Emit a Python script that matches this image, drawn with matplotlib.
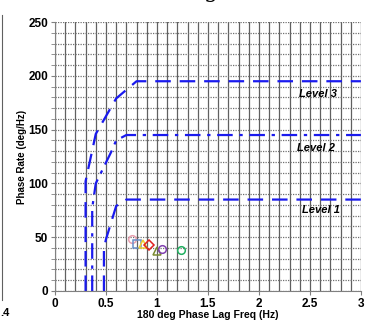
import matplotlib.pyplot as plt
from matplotlib.lines import Line2D
import numpy as np

plt.rcParams['font.family'] = ['Liberation Sans', 'DejaVu Sans']

# Boundary curves for each level (freq Hz, phase rate deg/Hz)
level1_x = [0.48, 0.48, 0.50, 0.60, 0.70, 3.0]
level1_y = [0, 40, 48, 79, 85, 85]
level2_x = [0.365, 0.365, 0.40, 0.56, 0.60, 0.70, 3.0]
level2_y = [0, 77, 100, 131, 140, 145, 145]
level3_x = [0.30, 0.30, 0.40, 0.60, 0.80, 3.0]
level3_y = [0, 102, 146, 179, 195, 195]

# Test points
pt_x = [0.76, 0.80, 0.86, 0.92, 1.00, 1.05, 1.24]
pt_y = [48.5, 44, 44, 43, 37, 39, 38]
pt_marker = ['o', 's', '^', 'D', '^', 'o', 'o']
pt_color = ['#e8a0b0', '#6a8fc8', '#f0d030', '#e02020', '#7a8a30', '#8040b0', '#20b060']

fig = plt.figure(figsize=(3.74, 3.32), dpi=100)
ax = fig.add_axes([0.147, 0.1235, 0.818, 0.81])

blue = '#1a1aee'
ax.plot(level3_x, level3_y, color=blue, lw=1.6, dashes=(7, 4))
ax.plot(level2_x, level2_y, color=blue, lw=1.6, dashes=(7, 3, 1.5, 3))
ax.plot(level1_x, level1_y, color=blue, lw=1.6, dashes=(7, 4))

for x, y, m, c in zip(pt_x, pt_y, pt_marker, pt_color):
    ax.plot(x, y, marker=m, mfc='none', mec=c, ms=5.5, mew=1.1, ls='none')

ax.text(2.58, 183, 'Level 3', fontsize=8, fontweight='bold', style='italic', ha='center', va='center')
ax.text(2.56, 133, 'Level 2', fontsize=8, fontweight='bold', style='italic', ha='center', va='center')
ax.text(2.61, 75, 'Level 1', fontsize=8, fontweight='bold', style='italic', ha='center', va='center')

ax.set_xlim(0, 3)
ax.set_ylim(0, 250)
ax.set_xticks(np.arange(0, 3.01, 0.5))
ax.set_xticklabels(['0', '0.5', '1', '1.5', '2', '2.5', '3'])
ax.set_yticks(np.arange(0, 251, 50))
ax.set_xticks(np.arange(0, 3.01, 0.1), minor=True)
ax.set_yticks(np.arange(0, 251, 10), minor=True)
ax.grid(True, which='both', axis='x', color='#606060', lw=0.9)
ax.grid(True, which='both', axis='y', color='#707070', lw=0.9, ls=(0, (1, 1)))
ax.set_axisbelow(True)
ax.tick_params(axis='both', which='major', labelsize=8.5, length=3, color='#808080', pad=2)
ax.tick_params(axis='x', which='minor', length=0)
ax.tick_params(axis='y', which='minor', length=3, color='#808080')
for lab in ax.get_xticklabels() + ax.get_yticklabels():
    lab.set_fontweight('bold')
for s in ax.spines.values():
    s.set_color('#808080')
    s.set_linewidth(0.8)
ax.spines['top'].set_visible(False)
ax.spines['right'].set_visible(False)

ax.set_xlabel('180 deg Phase Lag Freq (Hz)', fontsize=7.5, fontweight='bold', labelpad=0)
ax.set_ylabel('Phase Rate (deg/Hz)', fontsize=7, fontweight='bold', labelpad=1)

# neighbouring chart sliver and clipped title
fig.add_artist(Line2D([0.006, 0.006], [0.095, 0.955], color='#606060', lw=0.8))
fig.text(0.0, 0.048, '.4', fontsize=8, fontweight='bold')
fig.text(0.545, 1.008, 'g', fontsize=16, family='DejaVu Serif', va='baseline')

fig.savefig('out.png', dpi=100)
